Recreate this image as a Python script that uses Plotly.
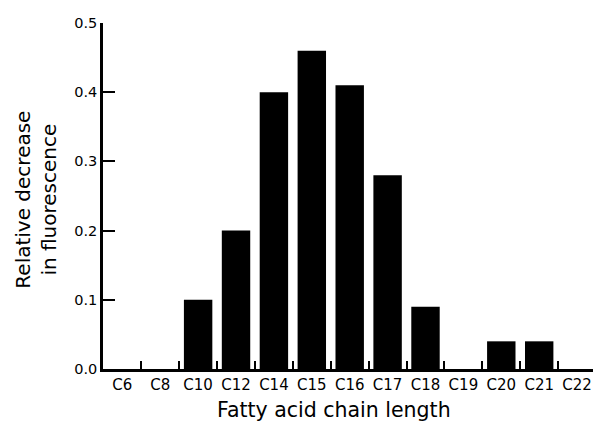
import plotly.graph_objects as go

categories = ["C6", "C8", "C10", "C12", "C14", "C15", "C16", "C17", "C18", "C19", "C20", "C21", "C22"]
values = [0.0, 0.0, 0.10, 0.20, 0.40, 0.46, 0.41, 0.28, 0.09, 0.0, 0.04, 0.04, 0.0]
y_ticks = [0.0, 0.1, 0.2, 0.3, 0.4, 0.5]
y_ticklabels = ["0.0", "0.1", "0.2", "0.3", "0.4", "0.5"]

fig = go.Figure()
fig.add_trace(go.Bar(x=categories, y=values, marker=dict(color="black", line=dict(width=0)), width=0.75))

font_family = "DejaVu Sans, Liberation Sans, Arial, sans-serif"
fig.update_layout(
    width=593, height=424,
    margin=dict(l=103, r=0, t=23, b=55, autoexpand=False),
    paper_bgcolor="white", plot_bgcolor="white",
    showlegend=False,
    font=dict(family=font_family, color="black"),
    xaxis=dict(
        type="category", range=[-0.51, 12.42], automargin=False,
        showline=True, linecolor="black", linewidth=2.5,
        ticks="inside", tickson="boundaries", ticklen=8, tickwidth=2, tickcolor="black",
        tickfont=dict(size=15), tickangle=0, showgrid=False, zeroline=False,
    ),
    yaxis=dict(
        range=[0, 0.5], tickvals=y_ticks, ticktext=y_ticklabels, automargin=False,
        showline=True, linecolor="black", linewidth=2.5,
        ticks="inside", ticklen=12, tickwidth=2, tickcolor="black",
        tickfont=dict(size=14.5), showgrid=False, zeroline=False,
    ),
    annotations=[
        dict(text="Fatty acid chain length", xref="paper", yref="paper", x=0.472, y=-0.1185,
             xanchor="center", yanchor="middle", showarrow=False, font=dict(size=20.5)),
        dict(text="Relative decrease<br>in fluorescence", xref="paper", yref="paper", x=-0.1357, y=0.488,
             xanchor="center", yanchor="middle", textangle=-90, showarrow=False, font=dict(size=20)),
    ],
)

# remove the browser's default 8px page margin so the figure sits at the window origin
fig.write_html("out.html", config={"displayModeBar": False},
               post_script="document.body.style.margin='0';")
